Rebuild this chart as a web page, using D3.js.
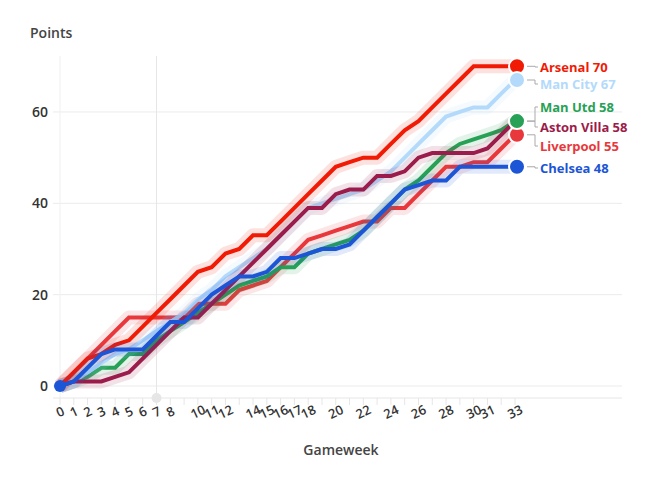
<!DOCTYPE html>
<html>
<head>
<meta charset="utf-8">
<script src="https://cdn.jsdelivr.net/npm/d3@7"></script>
<style>
  body { margin: 0; background: #fff; }
  text { font-family: "Open Sans", "DejaVu Sans", sans-serif; }
</style>
</head>
<body>
<script>
var width = 646, height = 479;

var gameweeks = d3.range(0, 34);
var tickLabels = [0,1,2,3,4,5,6,7,8,10,11,12,14,15,16,17,18,20,22,24,26,28,30,31,33];
var yTicks = [0, 20, 40, 60];

var arsenal   = [0,3,6,7,9,10,13,16,19,22,25,26,29,30,33,33,36,39,42,45,48,49,50,50,53,56,58,61,64,67,70,70,70,70];
var manCity   = [0,1,3,5,7,8,10,12,14,16,19,21,24,26,28,30,33,36,39,40,41,42,43,45,47,50,53,56,59,60,61,61,64,67];
var manUtd    = [0,1,2,4,4,7,7,10,12,14,16,18,20,22,23,24,26,26,29,30,31,32,34,37,40,43,45,48,51,53,54,55,56,58];
var astonVilla= [0,1,1,1,2,3,6,9,12,15,15,18,21,24,27,30,33,36,39,39,42,43,43,46,46,47,50,51,51,51,51,52,55,58];
var liverpool = [0,3,6,9,12,15,15,15,15,15,18,18,18,21,22,23,26,29,32,33,34,35,36,36,39,39,42,45,48,48,49,49,52,55];
var chelsea   = [0,1,4,7,8,8,8,11,14,14,17,20,22,24,24,25,28,28,29,30,30,31,34,37,40,43,44,45,45,48,48,48,48,48];

var teams = [
  {name: "Liverpool",   values: liverpool,  color: "#e8383b", labelY: 146},
  {name: "Man Utd",     values: manUtd,     color: "#26a155", labelY: 107},
  {name: "Man City",    values: manCity,    color: "#b3dafb", labelY: 84},
  {name: "Aston Villa", values: astonVilla, color: "#9b1c4a", labelY: 127},
  {name: "Arsenal",     values: arsenal,    color: "#f01a05", labelY: 67},
  {name: "Chelsea",     values: chelsea,    color: "#1c55d6", labelY: 168}
];
// order the end dots are painted in
var dotOrder = ["Arsenal", "Man City", "Aston Villa", "Liverpool", "Man Utd", "Chelsea"];

var svg = d3.select("body").append("svg")
    .attr("width", width)
    .attr("height", height);

var x = d3.scaleLinear().domain([0, 33]).range([60, 515]);
var y = d3.scaleLinear().domain([0, 70]).range([386, 66.3]);

// grid
var grid = svg.append("g");
grid.selectAll("line.h")
    .data(yTicks)
    .enter().append("line")
    .attr("x1", 53).attr("x2", 622)
    .attr("y1", function(d) { return y(d); })
    .attr("y2", function(d) { return y(d); })
    .attr("stroke", "#ebebeb");
grid.append("line")
    .attr("x1", x(0)).attr("x2", x(0))
    .attr("y1", 56).attr("y2", 398)
    .attr("stroke", "#f0f0f0");

// hover crosshair
grid.append("line")
    .attr("x1", x(7)).attr("x2", x(7))
    .attr("y1", 56).attr("y2", 398)
    .attr("stroke", "#e6e6e6");

// y labels
svg.append("g").selectAll("text")
    .data(yTicks)
    .enter().append("text")
    .attr("x", 48)
    .attr("y", function(d) { return y(d); })
    .attr("dy", "0.35em")
    .attr("text-anchor", "end")
    .attr("font-size", 14)
    .attr("font-weight", 600)
    .attr("fill", "#333")
    .text(function(d) { return d; });

svg.append("text")
    .attr("x", 30).attr("y", 38)
    .attr("font-size", 14)
    .attr("font-weight", 600)
    .attr("fill", "#444")
    .text("Points");

// x axis
var xAxis = svg.append("g");
xAxis.append("line")
    .attr("x1", 53).attr("x2", 622)
    .attr("y1", 398).attr("y2", 398)
    .attr("stroke", "#e6e6e6");
xAxis.selectAll("line.tick")
    .data(gameweeks)
    .enter().append("line")
    .attr("class", "tick")
    .attr("x1", function(d) { return x(d); })
    .attr("x2", function(d) { return x(d); })
    .attr("y1", 398).attr("y2", 405)
    .attr("stroke", "#e6e6e6");
xAxis.selectAll("text")
    .data(tickLabels)
    .enter().append("text")
    .attr("transform", function(d) { return "translate(" + (x(d) + 2) + ",416) rotate(-25)"; })
    .attr("text-anchor", "middle")
    .attr("font-size", 13)
    .attr("font-weight", 600)
    .attr("fill", "#333")
    .text(function(d) { return d; });

svg.append("circle")
    .attr("cx", x(7)).attr("cy", 398).attr("r", 5)
    .attr("fill", "#e6e6e6");

svg.append("text")
    .attr("x", 341).attr("y", 455)
    .attr("text-anchor", "middle")
    .attr("font-size", 14)
    .attr("font-weight", 600)
    .attr("fill", "#444")
    .text("Gameweek");

// lines
var line = d3.line()
    .x(function(d, i) { return x(gameweeks[i]); })
    .y(function(d) { return y(d); });

var series = svg.append("g").selectAll("g")
    .data(teams)
    .enter().append("g");

series.append("path")
    .attr("d", function(t) { return line(t.values); })
    .attr("fill", "none")
    .attr("stroke", function(t) { return t.color; })
    .attr("stroke-width", 14)
    .attr("stroke-linejoin", "round")
    .attr("opacity", 0.13);

series.append("path")
    .attr("d", function(t) { return line(t.values); })
    .attr("fill", "none")
    .attr("stroke", function(t) { return t.color; })
    .attr("stroke-width", 4);

// start dot (hovered point)
svg.append("circle")
    .attr("cx", x(0)).attr("cy", y(0)).attr("r", 6)
    .attr("fill", "#1c55d6");

// end dots + labels
var byName = {};
teams.forEach(function(t) { byName[t.name] = t; });
var ends = dotOrder.map(function(n) { return byName[n]; });

svg.append("g").selectAll("path")
    .data(ends)
    .enter().append("path")
    .attr("d", function(t) {
      var yy = y(t.values[33]);
      return "M" + (x(33) + 12) + "," + yy + "H" + 535 + "V" + t.labelY + "H" + 538;
    })
    .attr("fill", "none")
    .attr("stroke", "#aaa")
    .attr("stroke-width", 1);

svg.append("g").selectAll("circle")
    .data(ends)
    .enter().append("circle")
    .attr("cx", x(33) + 2)
    .attr("cy", function(t) { return y(t.values[33]); })
    .attr("r", 8)
    .attr("fill", function(t) { return t.color; })
    .attr("stroke", "#fff")
    .attr("stroke-width", 2);

svg.append("g").selectAll("text")
    .data(ends)
    .enter().append("text")
    .attr("x", 540)
    .attr("y", function(t) { return t.labelY; })
    .attr("dy", "0.35em")
    .attr("font-size", 13)
    .attr("font-weight", 700)
    .attr("fill", function(t) { return t.color; })
    .text(function(t) { return t.name + " " + t.values[33]; });
</script>
</body>
</html>
